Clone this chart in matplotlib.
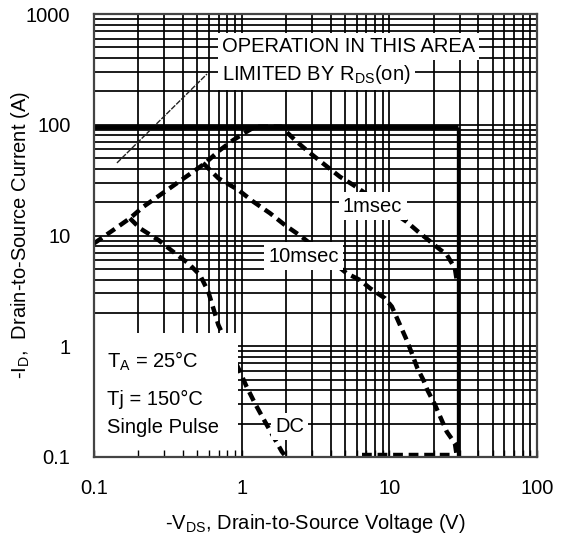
import numpy as np
import matplotlib.pyplot as plt
from matplotlib.patches import Rectangle
from matplotlib.ticker import FixedLocator, FixedFormatter, LogLocator, NullFormatter

plt.rcParams['font.family'] = ['Liberation Sans', 'DejaVu Sans']
plt.rcParams['mathtext.fontset'] = 'custom'
plt.rcParams['mathtext.rm'] = 'Liberation Sans'
plt.rcParams['mathtext.it'] = 'Liberation Sans'

# axis ticks
x_ticks = [0.1, 1, 10, 100]
x_labels = ['0.1', '1', '10', '100']
y_ticks = [0.1, 1, 10, 100, 1000]
y_labels = ['0.1', '1', '10', '100', '1000']

# package current limit and max drain-source voltage
i_limit = 96.0
v_limit = 29.0

# Rds(on) limited region
rds_v = [0.143, 0.582]
rds_i = [45.2, 287.0]

# 1 msec single pulse
ms1_v = [0.1, 0.104, 0.135, 0.175, 0.216, 0.280, 0.363, 0.470, 0.565, 0.713, 0.878,
         1.08, 1.23, 1.85, 2.36, 2.83, 3.67, 4.63, 5.70, 13.1, 15.7, 18.4, 20.9,
         24.5, 27.8, 28.6]
ms1_i = [8.5, 8.8, 11.2, 14.3, 18.2, 23.2, 29.6, 37.7, 44.9, 59.1, 72.8,
         86.5, 96.0, 96.0, 70.3, 57.1, 43.3, 33.9, 28.6, 13.3, 10.8, 9.1, 7.9,
         6.7, 5.06, 3.96]

# 10 msec single pulse
ms10_v = [0.547, 0.695, 0.949, 1.199, 1.555, 1.966, 2.55, 5.14, 6.33, 7.40, 9.34,
          10.4, 11.8, 13.1, 14.2, 15.5, 17.0, 18.1, 20.4, 22.6, 24.5, 27.8, 28.7]
ms10_i = [45.1, 32.9, 25.8, 20.2, 15.9, 12.4, 9.75, 4.56, 3.96, 3.34, 2.71,
          2.28, 1.56, 1.14, 0.864, 0.632, 0.496, 0.403, 0.295, 0.216, 0.169, 0.133, 0.1]

# DC
dc_v = [0.175, 0.205, 0.273, 0.354, 0.435, 0.522, 0.594, 0.643, 0.695, 0.974,
        1.08, 1.23, 1.44, 1.64, 1.87, 2.0]
dc_i = [14.3, 11.6, 9.11, 6.91, 5.61, 4.40, 3.11, 2.20, 1.56, 0.589,
        0.431, 0.305, 0.208, 0.153, 0.112, 0.1]
dc_tail_v = [6.5, 25.8]
dc_tail_i = [0.104, 0.104]

fig = plt.figure(figsize=(5.66, 5.42), dpi=100)
ax = fig.add_axes([94 / 566, 85 / 542, 443 / 566, 443 / 542])
ax.set_xscale('log')
ax.set_yscale('log')
ax.set_xlim(0.1, 100)
ax.set_ylim(0.1, 1000)

# full log grid, drawn by hand so the ticks can stay on top of the note box
for d in [0.1, 1, 10]:
    for k in range(1, 10):
        ax.axvline(d * k, color='black', lw=1.25, zorder=0.5)
for d in [0.1, 1, 10, 100]:
    for k in range(1, 10):
        ax.axhline(d * k, color='black', lw=1.25, zorder=0.5)

dash = (0, (2.2, 1.3))
ax.plot(ms1_v, ms1_i, color='black', lw=3.2, linestyle=dash, zorder=1.2)
ax.plot(ms10_v, ms10_i, color='black', lw=3.2, linestyle=dash, zorder=1.2)
ax.plot(dc_v, dc_i, color='black', lw=3.2, linestyle=dash, zorder=1.2)
ax.plot(dc_tail_v, dc_tail_i, color='black', lw=3.2, linestyle=dash, zorder=1.2)
ax.plot(rds_v, rds_i, color='#222222', lw=1.0, linestyle=(0, (4, 1)), zorder=1.2)

ax.plot([0.1, v_limit], [i_limit, i_limit], color='black', lw=3.4,
        solid_capstyle='butt', zorder=1.5)
ax.plot([v_limit, v_limit], [i_limit, 0.1], color='black', lw=2.4,
        solid_capstyle='butt', zorder=1.5)

# conditions box
ax.add_patch(Rectangle((0, 0), 0.325, 0.28, transform=ax.transAxes,
                       facecolor='white', edgecolor='none', zorder=2))
fs = 14.5
ax.text(0.029, 0.201, r'T$_{\rm A}$ = 25°C', transform=ax.transAxes, fontsize=fs,
        va='baseline', zorder=3)
ax.text(0.029, 0.117, 'Tj = 150°C', transform=ax.transAxes, fontsize=fs,
        va='baseline', zorder=3)
ax.text(0.029, 0.054, 'Single Pulse', transform=ax.transAxes, fontsize=fs,
        va='baseline', zorder=3)

box = dict(facecolor='white', edgecolor='none', pad=3)
ax.text(0.289, 0.914, 'OPERATION IN THIS AREA', transform=ax.transAxes,
        fontsize=fs, va='baseline', bbox=box, zorder=3)
ax.text(0.289, 0.851, r'LIMITED BY R$_{\rm DS}$(on)', transform=ax.transAxes,
        fontsize=fs, va='baseline', bbox=box, zorder=3)
ax.text(0.562, 0.554, '1msec', transform=ax.transAxes, fontsize=fs,
        va='baseline', bbox=box, zorder=3)
ax.text(0.393, 0.441, '10msec', transform=ax.transAxes, fontsize=fs,
        va='baseline', bbox=box, zorder=3)
ax.text(0.409, 0.057, 'DC', transform=ax.transAxes, fontsize=fs,
        va='baseline', bbox=box, zorder=3)

ax.xaxis.set_major_locator(FixedLocator(x_ticks))
ax.xaxis.set_major_formatter(FixedFormatter(x_labels))
ax.xaxis.set_minor_locator(LogLocator(base=10, subs=range(2, 10)))
ax.xaxis.set_minor_formatter(NullFormatter())
ax.yaxis.set_major_locator(FixedLocator(y_ticks))
ax.yaxis.set_major_formatter(FixedFormatter(y_labels))
ax.yaxis.set_minor_formatter(NullFormatter())
ax.tick_params(axis='x', which='both', direction='in', length=5, width=1,
               pad=16, labelsize=fs)
ax.tick_params(axis='y', which='both', length=0, pad=17, labelsize=fs)
ax.xaxis.set_zorder(2.2)

for s in ax.spines.values():
    s.set_color('#444444')
    s.set_linewidth(1.6)

ax.set_xlabel(r'-V$_{\rm DS}$, Drain-to-Source Voltage (V)', fontsize=fs)
ax.set_ylabel(r'-I$_{\rm D}$,  Drain-to-Source Current (A)', fontsize=fs)
ax.xaxis.set_label_coords(0.5, -0.124)
ax.yaxis.set_label_coords(-0.14, 0.5)

fig.savefig('out.png', dpi=100)
